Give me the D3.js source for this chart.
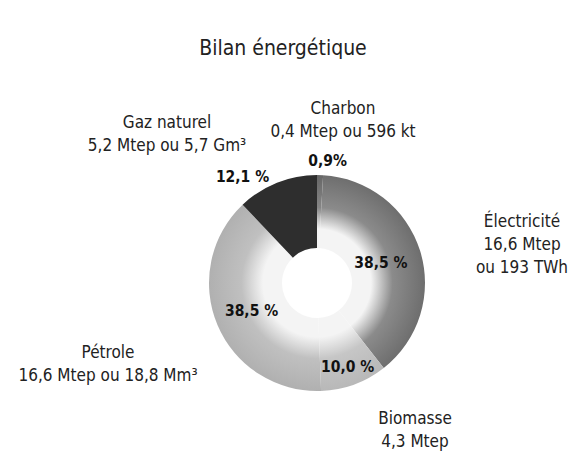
<!DOCTYPE html>
<html>
<head>
<meta charset="utf-8">
<script src="https://cdn.jsdelivr.net/npm/d3@7"></script>
<style>
  body { margin: 0; background: #fff; }
  svg { font-family: "Liberation Sans Narrow", "DejaVu Sans Condensed", sans-serif; }
</style>
</head>
<body>
<svg width="576" height="458"></svg>
<script>
var categories = ["Charbon", "Électricité", "Biomasse", "Pétrole", "Gaz naturel"];
var shares = [0.9, 38.5, 10.0, 38.5, 12.1];
var shareLabels = ["0,9%", "38,5 %", "10,0 %", "38,5 %", "12,1 %"];
var detailLines = [
  ["0,4 Mtep ou 596 kt"],
  ["16,6 Mtep", "ou 193 TWh"],
  ["4,3 Mtep"],
  ["16,6 Mtep ou 18,8 Mm³"],
  ["5,2 Mtep ou 5,7 Gm³"]
];

var svg = d3.select("svg");
var cx = 317, cy = 283, rOuter = 108, rInner = 35;

var colors = {
  "Charbon": "#666666",
  "Électricité": "#6e6e6e",
  "Biomasse": "#b8b8b8",
  "Pétrole": "#b0b0b0",
  "Gaz naturel": "#2e2e2e"
};

// where each text block sits, relative to the centre
var nameOffset = {
  "Charbon": [26, -175],
  "Électricité": [205, -62],
  "Biomasse": [98, 135],
  "Pétrole": [-209, 69],
  "Gaz naturel": [-150, -161]
};
var shareRadius = {
  "Charbon": 123, "Électricité": 67, "Biomasse": 89, "Pétrole": 71, "Gaz naturel": 130
};

var pie = d3.pie().sort(null).value(function(d, i) { return shares[i]; });
var arcs = pie(categories);

var defs = svg.append("defs");
categories.forEach(function(c, i) {
  var g = defs.append("radialGradient")
    .attr("id", "grad" + i)
    .attr("gradientUnits", "userSpaceOnUse")
    .attr("cx", 0).attr("cy", 0).attr("r", rOuter);
  var col = colors[c];
  var light = c === "Gaz naturel" ? col : "#f4f4f4";
  var mid = c === "Gaz naturel" ? col : d3.interpolateRgb(col, "#ffffff")(0.2);
  g.append("stop").attr("offset", rInner / rOuter).attr("stop-color", light);
  g.append("stop").attr("offset", 0.5).attr("stop-color", light);
  g.append("stop").attr("offset", 0.7).attr("stop-color", mid);
  g.append("stop").attr("offset", 1).attr("stop-color", col);
});

var arc = d3.arc().innerRadius(rInner).outerRadius(rOuter);

var chart = svg.append("g").attr("transform", "translate(" + cx + "," + cy + ")");

chart.selectAll(".slice")
  .data(arcs)
  .enter().append("path")
  .attr("class", "slice")
  .attr("d", arc)
  .attr("fill", function(d, i) { return "url(#grad" + i + ")"; });

// percentage labels
chart.selectAll(".share")
  .data(arcs)
  .enter().append("text")
  .attr("class", "share")
  .attr("transform", function(d) {
    var r = shareRadius[d.data];
    var a = (d.startAngle + d.endAngle) / 2;
    if (d.data === "Charbon") a = d.endAngle + 0.03;
    if (d.data === "Gaz naturel") a = a - 0.23;
    return "translate(" + (Math.sin(a) * r) + "," + (-Math.cos(a) * r) + ")";
  })
  .attr("text-anchor", "middle")
  .attr("dy", "0.35em")
  .attr("font-size", 15.5)
  .attr("font-weight", "bold")
  .attr("fill", "#111")
  .text(function(d, i) { return shareLabels[i]; });

// category names with figures
var names = chart.selectAll(".name")
  .data(arcs)
  .enter().append("text")
  .attr("class", "name")
  .attr("text-anchor", "middle")
  .attr("font-size", 17)
  .attr("fill", "#222")
  .attr("transform", function(d) {
    var o = nameOffset[d.data];
    return "translate(" + o[0] + "," + o[1] + ")";
  });

names.each(function(d, i) {
  var t = d3.select(this);
  t.append("tspan").attr("x", 0).attr("dy", "0.35em").text(d.data);
  detailLines[i].forEach(function(line) {
    t.append("tspan").attr("x", 0).attr("dy", 23).text(line);
  });
});

svg.append("text")
  .attr("x", 283)
  .attr("y", 55)
  .attr("text-anchor", "middle")
  .attr("font-size", 21)
  .attr("fill", "#222")
  .text("Bilan énergétique");
</script>
</body>
</html>
